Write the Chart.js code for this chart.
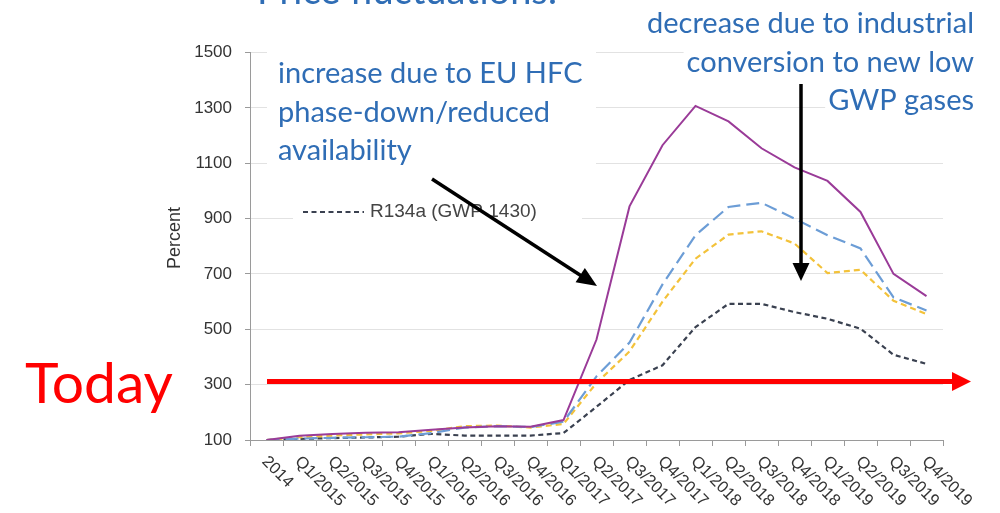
<!DOCTYPE html>
<html>
<head>
<meta charset="utf-8">
<script src="https://cdn.jsdelivr.net/npm/chart.js@4.4.1/dist/chart.umd.min.js"></script>
<style>
  html, body { margin: 0; padding: 0; background: #ffffff; }
  #wrap { width: 1000px; height: 513px; }
</style>
</head>
<body>
<div id="wrap"><canvas id="c" width="1000" height="513"></canvas></div>
<script>
// Quarterly refrigerant price index (2014 = 100)
const categories = ['2014', 'Q1/2015', 'Q2/2015', 'Q3/2015', 'Q4/2015', 'Q1/2016', 'Q2/2016',
  'Q3/2016', 'Q4/2016', 'Q1/2017', 'Q2/2017', 'Q3/2017', 'Q4/2017', 'Q1/2018', 'Q2/2018',
  'Q3/2018', 'Q4/2018', 'Q1/2019', 'Q2/2019', 'Q3/2019', 'Q4/2019'];

const seriesPurple = [100, 115, 122, 126, 128, 137, 145, 150, 148, 172, 463, 944, 1165, 1307, 1251, 1154, 1085, 1036, 924, 700, 620];
const seriesBlue   = [100, 105, 108, 110, 112, 125, 145, 150, 147, 166, 330, 452, 662, 840, 942, 957, 900, 840, 792, 615, 568];
const seriesYellow = [100, 110, 116, 120, 124, 133, 150, 152, 145, 158, 306, 420, 600, 755, 842, 854, 810, 703, 715, 603, 555];
const seriesR134a  = [100, 104, 107, 109, 112, 122, 116, 116, 116, 125, 220, 317, 370, 508, 592, 592, 562, 538, 502, 408, 375];

const yTickValues = [100, 300, 500, 700, 900, 1100, 1300, 1500];
const legendLabel = 'R134a (GWP 1430)';
const yAxisTitle = 'Percent';
const titleText = 'Price fluctuations:';
const noteLeft = ['increase due to EU HFC', 'phase-down/reduced', 'availability'];
const noteRight = ['decrease due to industrial', 'conversion to new low', 'GWP gases'];
const todayText = 'Today';

const AXIS_FONT = '"Liberation Sans", Arial, sans-serif';
const NOTE_FONT = 'Lato, "Open Sans", sans-serif';
const NOTE_BLUE = '#2F6DB5';

function arrowHead(ctx, x1, y1, x2, y2, len, half) {
  const a = Math.atan2(y2 - y1, x2 - x1);
  ctx.beginPath();
  ctx.moveTo(x2, y2);
  ctx.lineTo(x2 - len * Math.cos(a) + half * Math.sin(a), y2 - len * Math.sin(a) - half * Math.cos(a));
  ctx.lineTo(x2 - len * Math.cos(a) - half * Math.sin(a), y2 - len * Math.sin(a) + half * Math.cos(a));
  ctx.closePath();
  ctx.fill();
}

function arrow(ctx, x1, y1, x2, y2, width, color, len, half) {
  const a = Math.atan2(y2 - y1, x2 - x1);
  ctx.save();
  ctx.strokeStyle = color;
  ctx.fillStyle = color;
  ctx.lineWidth = width;
  ctx.lineCap = 'butt';
  ctx.beginPath();
  ctx.moveTo(x1, y1);
  ctx.lineTo(x2 - (len - 2) * Math.cos(a), y2 - (len - 2) * Math.sin(a));
  ctx.stroke();
  arrowHead(ctx, x1, y1, x2, y2, len, half);
  ctx.restore();
}

// White panels behind the callout texts and the legend (they hide the grid lines)
const panelPlugin = {
  id: 'panels',
  beforeDatasetsDraw(chart) {
    const ctx = chart.ctx;
    ctx.save();
    ctx.fillStyle = '#ffffff';
    ctx.fillRect(267, 38, 329, 162);   // left callout
    ctx.fillRect(293, 200, 289, 26);   // legend
    ctx.font = '29px ' + NOTE_FONT;
    const base = [33, 71.5, 110];
    noteRight.forEach((t, i) => {
      const w = ctx.measureText(t).width;
      ctx.fillRect(974 - w - 3, base[i] - 26, w + 30, 34);
    });
    ctx.restore();
  }
};

// Callouts, legend, slanted category labels and arrows
const overlayPlugin = {
  id: 'overlay',
  afterDatasetsDraw(chart) {
    const ctx = chart.ctx;
    const xs = chart.scales.x;

    // category labels, slanted down to the right
    ctx.save();
    ctx.fillStyle = '#333333';
    ctx.font = '16.5px ' + AXIS_FONT;
    ctx.textAlign = 'left';
    ctx.textBaseline = 'middle';
    categories.forEach((c, i) => {
      const x = xs.getPixelForValue(i);
      ctx.save();
      ctx.translate(x - 2, 459);
      ctx.rotate(Math.PI / 4);
      ctx.fillText(c, 0, 0);
      ctx.restore();
    });
    ctx.restore();

    // y axis title
    ctx.save();
    ctx.fillStyle = '#333333';
    ctx.font = '18px ' + AXIS_FONT;
    ctx.textAlign = 'center';
    ctx.textBaseline = 'middle';
    ctx.translate(175, 238);
    ctx.rotate(-Math.PI / 2);
    ctx.fillText(yAxisTitle, 0, 0);
    ctx.restore();

    // legend entry
    const ds = chart.data.datasets[3];
    ctx.save();
    ctx.strokeStyle = ds.borderColor;
    ctx.lineWidth = 2;
    ctx.setLineDash([5, 3.5]);
    ctx.beginPath();
    ctx.moveTo(303, 212);
    ctx.lineTo(364, 212);
    ctx.stroke();
    ctx.setLineDash([]);
    ctx.fillStyle = '#444444';
    ctx.font = '19px ' + AXIS_FONT;
    ctx.textAlign = 'left';
    ctx.textBaseline = 'middle';
    ctx.fillText(legendLabel, 370, 212);
    ctx.restore();

    // slide title (cut by the top edge)
    ctx.save();
    ctx.fillStyle = NOTE_BLUE;
    ctx.font = '38px ' + NOTE_FONT;
    ctx.textAlign = 'left';
    ctx.textBaseline = 'alphabetic';
    ctx.fillText(titleText, 257, 4);
    ctx.restore();

    // callout texts
    ctx.save();
    ctx.fillStyle = NOTE_BLUE;
    ctx.font = '29px ' + NOTE_FONT;
    ctx.textBaseline = 'alphabetic';
    ctx.textAlign = 'left';
    [83, 121.5, 160].forEach((b, i) => ctx.fillText(noteLeft[i], 278, b));
    ctx.textAlign = 'right';
    [33, 71.5, 110].forEach((b, i) => ctx.fillText(noteRight[i], 974, b));
    ctx.restore();

    // Today marker
    ctx.save();
    ctx.fillStyle = '#FF0000';
    ctx.font = '57px ' + NOTE_FONT;
    ctx.textAlign = 'left';
    ctx.textBaseline = 'alphabetic';
    ctx.fillText(todayText, 25, 403);
    ctx.restore();
    arrow(ctx, 267, 381.5, 971, 381.5, 5, '#FF0000', 19, 9.5);

    // black pointer arrows
    arrow(ctx, 432, 179, 597, 286, 3.5, '#000000', 20, 8.5);
    arrow(ctx, 801, 84, 801, 281, 3.5, '#000000', 18, 8.5);
  }
};

const chart = new Chart(document.getElementById('c'), {
  type: 'line',
  data: {
    labels: categories,
    datasets: [
      { label: 'Series 1', data: seriesPurple, borderColor: '#9A3B98', borderWidth: 2, tension: 0 },
      { label: 'Series 2', data: seriesBlue, borderColor: '#6C9DD6', borderWidth: 2.2, borderDash: [13, 6], tension: 0 },
      { label: 'Series 3', data: seriesYellow, borderColor: '#F3C23A', borderWidth: 2.2, borderDash: [6, 4], tension: 0 },
      { label: legendLabel, data: seriesR134a, borderColor: '#3A4150', borderWidth: 2.2, borderDash: [5, 3.5], tension: 0 }
    ]
  },
  options: {
    responsive: false,
    animation: false,
    events: [],
    layout: { padding: { left: 0, right: 57, top: 52.5, bottom: 0 } },
    elements: { point: { radius: 0 }, line: { fill: false } },
    plugins: { legend: { display: false }, tooltip: { enabled: false }, title: { display: false } },
    scales: {
      x: {
        type: 'category',
        offset: true,
        grid: { offset: true, drawOnChartArea: false, drawTicks: true, tickLength: 6, tickColor: '#9a9a9a' },
        border: { display: true, color: '#9a9a9a', width: 1 },
        ticks: { display: false },
        afterFit(scale) { scale.height = 73; }
      },
      y: {
        min: 100,
        max: 1500,
        afterBuildTicks(scale) { scale.ticks = yTickValues.map(v => ({ value: v })); },
        grid: { color: '#e2e2e2', lineWidth: 1, drawTicks: true, tickLength: 5, tickColor: '#9a9a9a' },
        border: { display: true, color: '#9a9a9a', width: 1 },
        ticks: {
          color: '#333333',
          font: { family: AXIS_FONT, size: 17 },
          padding: 13,
          callback: (v) => String(v)
        },
        afterFit(scale) { scale.width = 250; }
      }
    }
  },
  plugins: [panelPlugin, overlayPlugin]
});
</script>
</body>
</html>
